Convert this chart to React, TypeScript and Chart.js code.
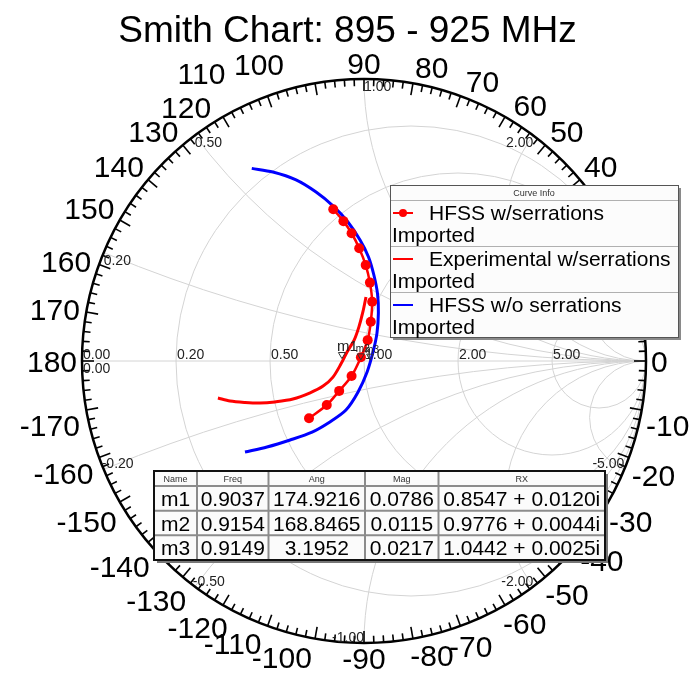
import { useEffect, useRef } from "react";
import { Chart, registerables } from "chart.js";

Chart.register(...registerables);

// Reflection coefficient traces, real and imaginary parts
const hfssSerrRe = [-0.109, -0.073, -0.044, -0.017, 0.006, 0.021, 0.029, 0.024, 0.013, -0.011, -0.044, -0.088, -0.132, -0.195];
const hfssSerrIm = [0.538, 0.496, 0.453, 0.4, 0.34, 0.278, 0.21, 0.139, 0.074, 0.013, -0.053, -0.106, -0.156, -0.203];

const expSerrRe = [-0.518, -0.475, -0.422, -0.369, -0.316, -0.252, -0.191, -0.145, -0.11, -0.082, -0.06, -0.035, -0.018, -0.004, 0.007];
const expSerrIm = [-0.131, -0.142, -0.147, -0.149, -0.145, -0.135, -0.113, -0.089, -0.057, -0.011, 0.032, 0.074, 0.121, 0.174, 0.227];

const hfssNoSerrRe = [-0.398, -0.323, -0.241, -0.17, -0.11, -0.057, -0.014, 0.016, 0.035, 0.048, 0.051, 0.046, 0.032, 0.011, -0.021, -0.064, -0.121, -0.184, -0.262, -0.344, -0.422];
const hfssNoSerrIm = [0.683, 0.67, 0.642, 0.599, 0.55, 0.493, 0.429, 0.369, 0.305, 0.238, 0.17, 0.099, 0.032, -0.039, -0.11, -0.174, -0.216, -0.252, -0.28, -0.305, -0.323];

// Marker table
const markerNames = ["m1", "m2", "m3"];
const markerFreq = ["0.9037", "0.9154", "0.9149"];
const markerAng = [174.9216, 168.8465, 3.1952];
const markerMag = [0.0786, 0.0115, 0.0217];
const markerRX = ["0.8547 + 0.0120i", "0.9776 + 0.0044i", "1.0442 + 0.0025i"];
const tableHeaders = ["Name", "Freq", "Ang", "Mag", "RX"];

// Smith grid
const resistanceGrid = [0.2, 0.5, 1, 2, 5];
const resistanceLabels = ["0.20", "0.50", "1.00", "2.00", "5.00"];
const reactanceGrid = [0.2, 0.5, 1, 2, 5];
const reactanceLabels = ["0.20", "0.50", "1.00", "2.00", "5.00"];
const angleLabels = [-170, -160, -150, -140, -130, -120, -110, -100, -90, -80, -70, -60, -50, -40, -30, -20, -10, 0, 10, 20, 30, 40, 50, 60, 70, 80, 90, 100, 110, 120, 130, 140, 150, 160, 170, 180];

const legendNames = ["HFSS w/serrations", "Experimental w/serrations", "HFSS w/o serrations"];
const titleText = "Smith Chart: 895 - 925 MHz";

const FONT = '"Liberation Sans", Arial, sans-serif';

// rim label placement tweaks: [angular shift in degrees, extra radial offset in px]
const rimLabelNudge: Record<string, [number, number]> = {
  "-170": [1.5, 0], "-160": [0.5, 0], "-130": [-1, 0], "-120": [-2, 0], "-110": [-5, 0], "-100": [-5.5, 0],
  "-80": [3, 0], "-70": [0.5, 0], "-60": [1.5, 0], "-50": [1, 0], "-30": [-1, 0], "-20": [-1.5, 0], "-10": [-2, 0],
  "40": [-0.5, 0], "50": [-1.5, 0], "60": [-3, 0], "70": [-3, 0], "80": [-3, 0],
  "100": [9.5, 9], "110": [9.5, 22], "120": [5, 0], "130": [2.5, 0], "140": [1.5, 0], "150": [1, 0], "160": [1.5, 0], "170": [0.5, 0],
};

const toPoints = (re: number[], im: number[]) => re.map((v, i) => ({ x: v, y: im[i] }));

const smithPlugin = {
  id: "smithGrid",
  beforeDatasetsDraw(chart: any) {
    const { ctx } = chart;
    const xs = chart.scales.x;
    const ys = chart.scales.y;
    const px = (v: number) => xs.getPixelForValue(v);
    const py = (v: number) => ys.getPixelForValue(v);
    const cx = px(0);
    const cy = py(0);
    const unit = px(1) - px(0);

    ctx.save();
    ctx.beginPath();
    ctx.arc(cx, cy, unit, 0, Math.PI * 2);
    ctx.clip();
    ctx.strokeStyle = "#d4d4d4";
    ctx.lineWidth = 1;
    ctx.beginPath();
    ctx.moveTo(px(-1), cy);
    ctx.lineTo(px(1), cy);
    ctx.stroke();
    resistanceGrid.forEach((r) => {
      ctx.beginPath();
      ctx.arc(px(r / (1 + r)), cy, unit / (1 + r), 0, Math.PI * 2);
      ctx.stroke();
    });
    reactanceGrid.forEach((xv) => {
      [1, -1].forEach((s) => {
        ctx.beginPath();
        ctx.arc(px(1), py(s / xv), unit / xv, 0, Math.PI * 2);
        ctx.stroke();
      });
    });
    ctx.restore();

    // outer rim
    ctx.save();
    ctx.strokeStyle = "#000";
    ctx.lineWidth = 2.5;
    ctx.beginPath();
    ctx.arc(cx, cy, unit, 0, Math.PI * 2);
    ctx.stroke();

    // angle ticks every 2 degrees, longer every 10
    ctx.lineWidth = 1.6;
    for (let a = -178; a <= 180; a += 2) {
      const t = (a * Math.PI) / 180;
      const len = a % 10 === 0 ? 12 : 7;
      const c = Math.cos(t);
      const s = Math.sin(t);
      ctx.beginPath();
      ctx.moveTo(cx + c * unit, cy - s * unit);
      ctx.lineTo(cx + c * (unit - len), cy - s * (unit - len));
      ctx.stroke();
    }

    // angle labels
    ctx.fillStyle = "#000";
    ctx.font = `30px ${FONT}`;
    ctx.textAlign = "center";
    ctx.textBaseline = "alphabetic";
    const capH = 30 * 0.716;
    angleLabels.forEach((a) => {
      const txt = String(a);
      const w = ctx.measureText(txt).width;
      const [shift, push] = rimLabelNudge[txt] || [0, 0];
      const t = ((a + shift) * Math.PI) / 180;
      const c = Math.cos(t);
      const s = Math.sin(t);
      const extra = (s < 0 && c < 0 ? 3 : 1) + push;
      const d = unit + 4 + extra + (w / 2) * Math.abs(c) + (capH / 2) * Math.abs(s);
      ctx.fillText(txt, cx + c * d, cy - s * d + capH / 2);
    });

    // grid value labels
    ctx.font = `14px ${FONT}`;
    ctx.fillStyle = "#222";
    ctx.textAlign = "left";
    ctx.fillText("0.00", px(-1) + 1, cy - 2);
    ctx.fillText("0.00", px(-1) + 1, cy + 12);
    resistanceGrid.forEach((r, i) => {
      ctx.fillText(resistanceLabels[i], px((r - 1) / (r + 1)) + 1, cy - 2);
    });
    reactanceGrid.forEach((xv, i) => {
      const gx = (xv * xv - 1) / (xv * xv + 1);
      const gy = (2 * xv) / (xv * xv + 1);
      const ix = px(gx);
      ctx.textAlign = xv <= 1 ? "left" : "right";
      ctx.fillText(reactanceLabels[i], ix, py(gy) + 12);
      ctx.textAlign = xv < 1 ? "left" : "right";
      ctx.fillText("-" + reactanceLabels[i], ix - (xv < 1 ? 2 : 0), py(-gy) - 1);
    });
    ctx.restore();
  },
  afterDatasetsDraw(chart: any) {
    const { ctx } = chart;
    const xs = chart.scales.x;
    const ys = chart.scales.y;
    ctx.save();
    markerNames.forEach((name, i) => {
      const t = (markerAng[i] * Math.PI) / 180;
      const tx = xs.getPixelForValue(markerMag[i] * Math.cos(t));
      const ty = ys.getPixelForValue(markerMag[i] * Math.sin(t));
      ctx.strokeStyle = "#333";
      ctx.lineWidth = 1;
      ctx.beginPath();
      ctx.moveTo(tx, ty - 0.5);
      ctx.lineTo(tx - 3.5, ty - 6.5);
      ctx.lineTo(tx + 3.5, ty - 6.5);
      ctx.closePath();
      ctx.stroke();
      ctx.fillStyle = "#222";
      ctx.textAlign = "left";
      ctx.textBaseline = "alphabetic";
      ctx.font = i === 0 ? `15px ${FONT}` : `10px ${FONT}`;
      ctx.fillText(name, tx - 5, ty - 8);
    });
    ctx.restore();
  },
  afterDraw(chart: any) {
    const { ctx } = chart;
    ctx.save();

    // title
    ctx.fillStyle = "#000";
    ctx.font = `37px ${FONT}`;
    ctx.textAlign = "center";
    ctx.textBaseline = "alphabetic";
    ctx.fillText(titleText, chart.width / 2, 42);

    // curve info box
    const lx = 390, ly = 185, lw = 288, lh = 152;
    ctx.fillStyle = "#8a8a8a";
    ctx.fillRect(lx + 3, ly + 3, lw, lh);
    ctx.fillStyle = "#fcfcfc";
    ctx.fillRect(lx, ly, lw, lh);
    ctx.strokeStyle = "#555";
    ctx.lineWidth = 1;
    ctx.strokeRect(lx + 0.5, ly + 0.5, lw, lh);
    ctx.strokeStyle = "#b0b0b0";
    [200, 246, 292].forEach((yy) => {
      ctx.beginPath();
      ctx.moveTo(lx + 1, yy + 0.5);
      ctx.lineTo(lx + lw, yy + 0.5);
      ctx.stroke();
    });
    ctx.fillStyle = "#333";
    ctx.font = `9px ${FONT}`;
    ctx.textAlign = "center";
    ctx.fillText("Curve Info", lx + lw / 2, 196);
    const rowLineY = [213, 259, 305];
    const colors = ["#ff0000", "#ff0000", "#0000ff"];
    legendNames.forEach((name, i) => {
      const yy = rowLineY[i];
      ctx.strokeStyle = colors[i];
      ctx.lineWidth = 2;
      ctx.beginPath();
      ctx.moveTo(393, yy);
      ctx.lineTo(413, yy);
      ctx.stroke();
      if (i === 0) {
        ctx.fillStyle = colors[i];
        ctx.beginPath();
        ctx.arc(403, yy, 4, 0, Math.PI * 2);
        ctx.fill();
      }
      ctx.fillStyle = "#000";
      ctx.font = `21px ${FONT}`;
      ctx.textAlign = "left";
      ctx.fillText(name, 429, yy + 7);
      ctx.fillText("Imported", 392, yy + 29);
    });

    // marker table
    const cols = [154, 197, 268.5, 365, 438.5, 605];
    const rows = [471, 486, 510.7, 535.3, 560];
    const tw = cols[cols.length - 1] - cols[0];
    const th = rows[rows.length - 1] - rows[0];
    ctx.fillStyle = "#777";
    ctx.fillRect(cols[0] + 3, rows[0] + 3, tw, th);
    ctx.fillStyle = "#fbfbfb";
    ctx.fillRect(cols[0], rows[0], tw, th);
    ctx.strokeStyle = "#8c8c8c";
    ctx.lineWidth = 2;
    cols.slice(1, -1).forEach((c) => {
      ctx.beginPath();
      ctx.moveTo(c, rows[0]);
      ctx.lineTo(c, rows[rows.length - 1]);
      ctx.stroke();
    });
    rows.slice(1, -1).forEach((r) => {
      ctx.beginPath();
      ctx.moveTo(cols[0], r);
      ctx.lineTo(cols[cols.length - 1], r);
      ctx.stroke();
    });
    ctx.strokeStyle = "#111";
    ctx.strokeRect(cols[0], rows[0], tw, th);

    ctx.textAlign = "center";
    ctx.fillStyle = "#333";
    ctx.font = `9px ${FONT}`;
    tableHeaders.forEach((h, j) => {
      ctx.fillText(h, (cols[j] + cols[j + 1]) / 2, (rows[0] + rows[1]) / 2 + 3);
    });
    ctx.fillStyle = "#000";
    ctx.font = `21px ${FONT}`;
    markerNames.forEach((name, i) => {
      const cells = [name, markerFreq[i], markerAng[i].toFixed(4), markerMag[i].toFixed(4), markerRX[i]];
      const yMid = (rows[i + 1] + rows[i + 2]) / 2;
      cells.forEach((txt, j) => {
        ctx.fillText(txt, (cols[j] + cols[j + 1]) / 2, yMid + 7.5);
      });
    });
    ctx.restore();
  },
};

export default function App() {
  const canvasRef = useRef<HTMLCanvasElement | null>(null);

  useEffect(() => {
    if (!canvasRef.current) return;
    const chart = new Chart(canvasRef.current, {
      type: "scatter",
      data: {
        datasets: [
          {
            label: legendNames[0],
            data: toPoints(hfssSerrRe, hfssSerrIm),
            showLine: true,
            borderColor: "#ff0000",
            backgroundColor: "#ff0000",
            borderWidth: 2.5,
            pointRadius: 5,
            pointBorderWidth: 0,
            tension: 0.3,
            order: 1,
          },
          {
            label: legendNames[1],
            data: toPoints(expSerrRe, expSerrIm),
            showLine: true,
            borderColor: "#ff0000",
            backgroundColor: "#ff0000",
            borderWidth: 3,
            pointRadius: 0,
            tension: 0.3,
            order: 2,
          },
          {
            label: legendNames[2],
            data: toPoints(hfssNoSerrRe, hfssNoSerrIm),
            showLine: true,
            borderColor: "#0000ff",
            backgroundColor: "#0000ff",
            borderWidth: 3,
            pointRadius: 0,
            tension: 0.3,
            order: 3,
          },
        ],
      },
      options: {
        animation: false,
        responsive: false,
        devicePixelRatio: 1,
        events: [],
        layout: { padding: { left: 82, right: 49, top: 79, bottom: 45 } },
        scales: {
          x: { type: "linear", min: -1, max: 1, display: false },
          y: { type: "linear", min: -1, max: 1, display: false },
        },
        plugins: {
          legend: { display: false },
          tooltip: { enabled: false },
          title: { display: false },
        },
      },
      plugins: [smithPlugin],
    });
    return () => chart.destroy();
  }, []);

  return (
    <div style={{ position: "absolute", left: 0, top: 0, width: 695, height: 688, background: "#fff" }}>
      <canvas ref={canvasRef} width={695} height={688} style={{ display: "block" }} />
    </div>
  );
}
